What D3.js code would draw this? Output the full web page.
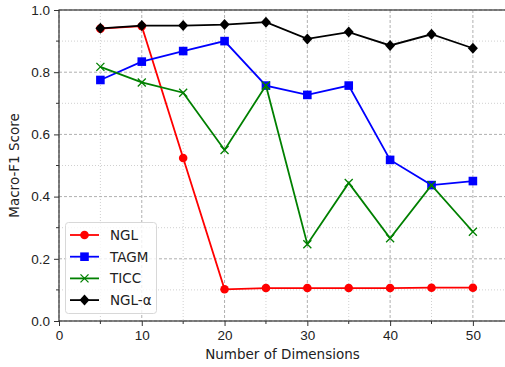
<!DOCTYPE html>
<meta charset="utf-8">
<style>
body { margin: 0; background: #fff; }
svg { font-family: "DejaVu Sans", sans-serif; }
.tick text { font-size: 13.5px; fill: #222; }
</style>
<svg width="505" height="367"></svg>
<script src="https://d3js.org/d3.v7.min.js"></script>
<script>

var dims = [5, 10, 15, 20, 25, 30, 35, 40, 45, 50];
var ngl = [0.94, 0.948, 0.524, 0.102, 0.106, 0.106, 0.106, 0.106, 0.107, 0.107];
var tagm = [0.775, 0.834, 0.868, 0.900, 0.757, 0.727, 0.757, 0.518, 0.437, 0.450];
var ticc = [0.817, 0.767, 0.734, 0.550, 0.757, 0.247, 0.444, 0.266, 0.437, 0.287];
var nglAlpha = [0.941, 0.950, 0.950, 0.953, 0.961, 0.907, 0.929, 0.886, 0.922, 0.877];

var seriesNames = ["NGL", "TAGM", "TICC", "NGL-\u03b1"];
var xTicks = [0, 10, 20, 30, 40, 50];
var yTicks = [0, 0.2, 0.4, 0.6, 0.8, 1.0];

var series = [
  {name: seriesNames[0], values: ngl, color: "#ff0000", marker: "circle"},
  {name: seriesNames[1], values: tagm, color: "#0000ff", marker: "square"},
  {name: seriesNames[2], values: ticc, color: "#008000", marker: "x"},
  {name: seriesNames[3], values: nglAlpha, color: "#000000", marker: "diamond"}
];

var svg = d3.select("svg"),
    box = {left: 59, right: 506, top: 10, bottom: 321};

var x = d3.scaleLinear().domain([0, 54]).range([box.left, box.right]),
    y = d3.scaleLinear().domain([0, 1]).range([box.bottom, box.top]);

var minorX = [5, 15, 25, 35, 45],
    minorY = [0.1, 0.3, 0.5, 0.7, 0.9];

/* grid */
var grid = svg.append("g");
minorX.forEach(function(v) {
  grid.append("line").attr("x1", x(v)).attr("x2", x(v)).attr("y1", box.top).attr("y2", box.bottom)
    .attr("stroke", "#d0d0d0").attr("stroke-width", 1).attr("stroke-dasharray", "1,2");
});
minorY.forEach(function(v) {
  grid.append("line").attr("x1", box.left).attr("x2", box.right).attr("y1", y(v)).attr("y2", y(v))
    .attr("stroke", "#d0d0d0").attr("stroke-width", 1).attr("stroke-dasharray", "1,2");
});
xTicks.forEach(function(v) {
  grid.append("line").attr("x1", x(v)).attr("x2", x(v)).attr("y1", box.top).attr("y2", box.bottom)
    .attr("stroke", "#b0b0b0").attr("stroke-width", 1).attr("stroke-dasharray", "3,2");
});
yTicks.forEach(function(v) {
  grid.append("line").attr("x1", box.left).attr("x2", box.right).attr("y1", y(v)).attr("y2", y(v))
    .attr("stroke", "#b0b0b0").attr("stroke-width", 1).attr("stroke-dasharray", "3,2");
});

/* axes */
var xAxis = svg.append("g")
    .attr("transform", "translate(0," + box.bottom + ")")
    .call(d3.axisBottom(x).tickValues(xTicks).tickFormat(d3.format("d")).tickSize(5).tickPadding(4));
var yAxis = svg.append("g")
    .attr("transform", "translate(" + box.left + ",0)")
    .call(d3.axisLeft(y).tickValues(yTicks).tickFormat(d3.format(".1f")).tickSize(5).tickPadding(4));
[xAxis, yAxis].forEach(function(a) {
  a.select(".domain").remove();
  a.selectAll(".tick line").attr("stroke", "#333");
});
minorX.forEach(function(v) {
  svg.append("line").attr("x1", x(v)).attr("x2", x(v)).attr("y1", box.bottom).attr("y2", box.bottom + 3).attr("stroke", "#333");
});
minorY.forEach(function(v) {
  svg.append("line").attr("x1", box.left - 3).attr("x2", box.left).attr("y1", y(v)).attr("y2", y(v)).attr("stroke", "#333");
});

/* spines */
svg.append("rect").attr("x", box.left).attr("y", box.top).attr("width", box.right - box.left).attr("height", box.bottom - box.top)
  .attr("fill", "none").attr("stroke", "#333").attr("stroke-width", 1.2);

/* markers */
function drawMarker(g, type, color, cx, cy) {
  if (type === "circle") {
    g.append("circle").attr("cx", cx).attr("cy", cy).attr("r", 4.3).attr("fill", color);
  } else if (type === "square") {
    g.append("rect").attr("x", cx - 4.3).attr("y", cy - 4.3).attr("width", 8.6).attr("height", 8.6).attr("fill", color);
  } else if (type === "x") {
    g.append("path").attr("d", "M" + (cx - 4) + "," + (cy - 4) + "L" + (cx + 4) + "," + (cy + 4) +
      "M" + (cx - 4) + "," + (cy + 4) + "L" + (cx + 4) + "," + (cy - 4))
      .attr("stroke", color).attr("stroke-width", 1.3).attr("fill", "none");
  } else {
    g.append("path").attr("d", "M" + cx + "," + (cy - 5.5) + "L" + (cx + 5) + "," + cy + "L" + cx + "," + (cy + 5.5) + "L" + (cx - 5) + "," + cy + "Z")
      .attr("fill", color);
  }
}

var line = d3.line().x(function(d, i) { return x(dims[i]); }).y(function(d) { return y(d); });

series.forEach(function(s) {
  var g = svg.append("g");
  g.append("path").datum(s.values).attr("d", line)
    .attr("fill", "none").attr("stroke", s.color).attr("stroke-width", 1.8);
  s.values.forEach(function(v, i) { drawMarker(g, s.marker, s.color, x(dims[i]), y(v)); });
});

/* axis labels */
svg.append("text").attr("x", (box.left + box.right) / 2).attr("y", 359).attr("text-anchor", "middle")
  .style("font-size", "13.5px").style("fill", "#222").text("Number of Dimensions");
svg.append("text").attr("transform", "translate(19," + ((box.top + box.bottom) / 2) + ") rotate(-90)")
  .attr("text-anchor", "middle").style("font-size", "13.5px").style("fill", "#222").text("Macro-F1 Score");

/* legend */
var lg = svg.append("g");
lg.append("rect").attr("x", 65.5).attr("y", 222.5).attr("width", 91).attr("height", 91).attr("rx", 3)
  .attr("fill", "#fff").attr("fill-opacity", 0.8).attr("stroke", "#d8d8d8");
series.forEach(function(s, i) {
  var ly = 235 + i * 21.7;
  lg.append("line").attr("x1", 70).attr("x2", 99).attr("y1", ly).attr("y2", ly)
    .attr("stroke", s.color).attr("stroke-width", 1.8);
  drawMarker(lg, s.marker, s.color, 84.5, ly);
  lg.append("text").attr("x", 110).attr("y", ly + 5).style("font-size", "13.5px").style("fill", "#222").text(s.name);
});

</script>
